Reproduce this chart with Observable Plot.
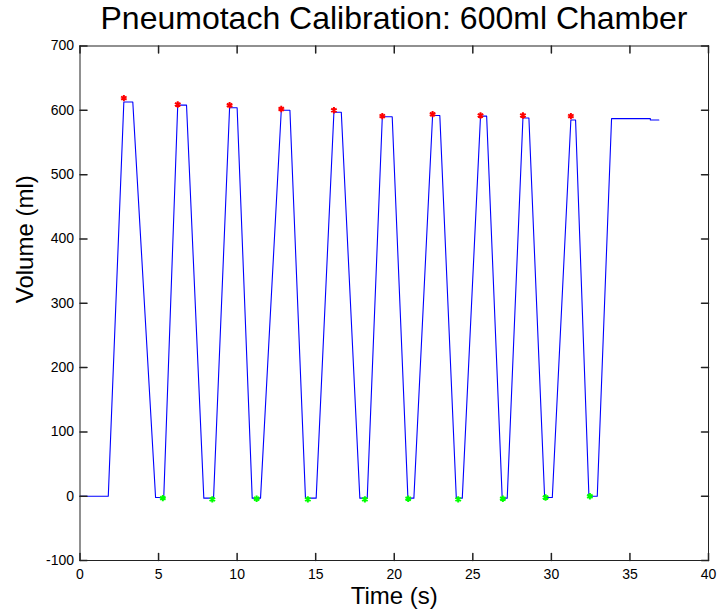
<!DOCTYPE html>
<html><head><meta charset="utf-8">
<script src="https://cdn.jsdelivr.net/npm/d3@7"></script>
<script src="https://cdn.jsdelivr.net/npm/@observablehq/plot@0.6"></script>
<style>
body{margin:0;background:#fff;}
#title{position:relative;height:40px;width:717px;font:32px/32px "Liberation Sans",Arial,sans-serif;}
#title span{position:absolute;left:394px;top:2px;transform:translateX(-50%);white-space:nowrap;color:#000;}
</style></head><body>
<div id="title"><span>Pneumotach Calibration: 600ml Chamber</span></div>
<div id="chart"></div>
<script>
// Recorded volume trace (vertices of the line)
const traceTime = [0, 1.80, 2.79, 3.36, 4.81, 5.33, 6.22, 6.78, 7.88, 8.50, 9.52, 10.00, 10.96, 11.49, 12.81, 13.36, 14.35, 15.03, 16.16, 16.63, 17.81, 18.28, 19.24, 19.87, 20.87, 21.25, 22.44, 22.90, 23.95, 24.33, 25.49, 25.88, 26.87, 27.19, 28.19, 28.57, 29.57, 30.06, 31.24, 31.54, 32.39, 32.92, 33.83, 36.30, 36.30, 36.84];
const traceVolume = [0, 0, 613, 613, -2, -2, 608, 608, -3, -3, 604, 604, -3, -3, 600, 600, -3, -3, 597, 597, -3, -3, 590, 590, -3, -3, 592, 592, -3, -3, 591, 591, -3, -3, 588, 588, -2, -2, 585, 585, 0, 0, 587, 587, 585, 585];
// Detected peaks (red) and troughs (green)
const peakTime = [2.79, 6.22, 9.52, 12.81, 16.16, 19.24, 22.44, 25.49, 28.19, 31.24];
const peakVolume = [619, 609, 608, 602, 600, 591, 594, 592, 592, 591];
const troughTime = [5.27, 8.42, 11.24, 14.50, 18.13, 20.89, 24.07, 26.91, 29.63, 32.45];
const troughVolume = [-3, -5, -4, -5, -5, -4, -5, -4, -2, 0];
// Axis ticks
const xTicks = [0, 5, 10, 15, 20, 25, 30, 35, 40];
const yTicks = [-100, 0, 100, 200, 300, 400, 500, 600, 700];

const trace = traceTime.map((t, i) => ({t, v: traceVolume[i]}));
const peaks = peakTime.map((t, i) => ({t, v: peakVolume[i]}));
const troughs = troughTime.map((t, i) => ({t, v: troughVolume[i]}));

const tickShape = {draw(context, l) { context.moveTo(0, 0); context.lineTo(0, -l); }};
const axisColor = "#222";
const fmt = d => String(d);

const chart = Plot.plot({
  width: 717,
  height: 575,
  marginTop: 5.5,
  marginBottom: 55,
  marginLeft: 79.5,
  marginRight: 9,
  style: {fontFamily: "Liberation Sans, Arial, sans-serif", background: "#fff", color: "#000", overflow: "visible"},
  x: {domain: [0, 40]},
  y: {domain: [-100, 700]},
  marks: [
    Plot.line(trace, {x: "t", y: "v", stroke: "#0000ff", strokeWidth: 1.1}),
    Plot.dot(peaks, {x: "t", y: "v", symbol: "asterisk", r: 3, stroke: "#ff0000", strokeWidth: 2}),
    Plot.dot(troughs, {x: "t", y: "v", symbol: "asterisk", r: 3, stroke: "#00ff00", strokeWidth: 2}),
    Plot.frame({stroke: axisColor}),
    Plot.axisX(xTicks, {tickSize: 0, tickPadding: 9, fontSize: 14, label: null, tickFormat: fmt}),
    Plot.axisY(yTicks, {tickSize: 0, tickPadding: 6, fontSize: 14, label: null, tickFormat: fmt}),
    Plot.vector(xTicks, {x: d => d, y: -100, length: 7, rotate: 0, anchor: "start", shape: tickShape, stroke: axisColor}),
    Plot.vector(xTicks, {x: d => d, y: 700, length: 7, rotate: 180, anchor: "start", shape: tickShape, stroke: axisColor}),
    Plot.vector(yTicks, {x: 0, y: d => d, length: 7, rotate: 90, anchor: "start", shape: tickShape, stroke: axisColor}),
    Plot.vector(yTicks, {x: 40, y: d => d, length: 7, rotate: -90, anchor: "start", shape: tickShape, stroke: axisColor}),
    Plot.text(["Time (s)"], {frameAnchor: "bottom", dy: 36, lineAnchor: "middle", fontSize: 24, text: d => d}),
    Plot.text(["Volume (ml)"], {frameAnchor: "left", dx: -55, rotate: -90, lineAnchor: "middle", fontSize: 24, text: d => d})
  ]
});
document.getElementById("chart").appendChild(chart);
</script>
</body></html>
